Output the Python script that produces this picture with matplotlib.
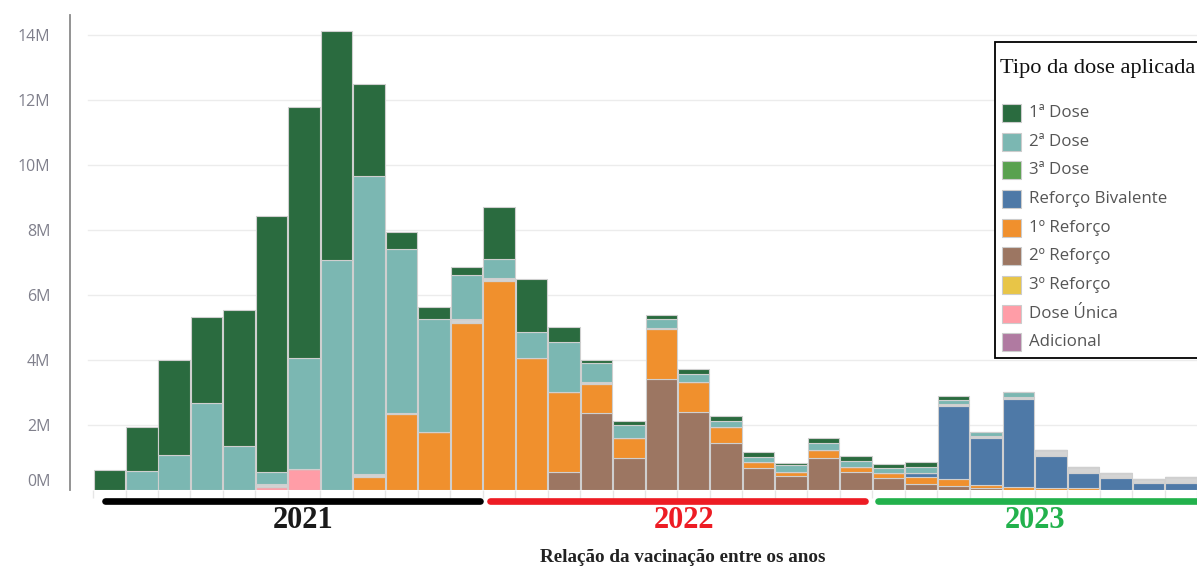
import numpy as np
import matplotlib.pyplot as plt
from matplotlib.patches import Rectangle
from matplotlib.transforms import blended_transform_factory

# Monthly doses applied (millions), Jan/2021 .. Oct/2023
meses = [f"{m:02d}/{a}" for a in (2021, 2022, 2023) for m in range(1, 13)][:34]

dose1 = [0.62, 1.35, 2.91, 2.64, 4.18, 7.87, 7.71, 7.04, 2.83, 0.51, 0.35, 0.25,
         1.58, 1.62, 0.48, 0.10, 0.13, 0.13, 0.15, 0.15, 0.14, 0.07, 0.15, 0.15,
         0.13, 0.17, 0.13, 0.00, 0.00, 0.00, 0.00, 0.00, 0.00, 0.00]
dose2 = [0.00, 0.58, 1.09, 2.67, 1.36, 0.37, 3.43, 7.06, 9.17, 5.04, 3.48, 1.35,
         0.58, 0.80, 1.54, 0.57, 0.39, 0.26, 0.25, 0.18, 0.15, 0.21, 0.21, 0.18,
         0.16, 0.19, 0.14, 0.12, 0.17, 0.00, 0.00, 0.00, 0.00, 0.00]
dose3 = [0.0] * 34
bivalente = [0.00] * 25 + [0.12, 2.25, 1.46, 2.70, 0.98, 0.48, 0.36, 0.21, 0.21]
reforco1 = [0.00, 0.00, 0.00, 0.00, 0.00, 0.00, 0.00, 0.00, 0.39, 2.33, 1.78, 5.12,
            6.43, 4.07, 2.46, 0.89, 0.62, 1.54, 0.90, 0.51, 0.20, 0.12, 0.24, 0.18,
            0.15, 0.21, 0.21, 0.10, 0.10, 0.05, 0.05, 0.00, 0.00, 0.00]
reforco2 = [0.00] * 14 + [0.54, 2.36, 0.99, 3.41, 2.41, 1.44, 0.67, 0.44, 0.99, 0.54,
                          0.36, 0.18, 0.12, 0.05, 0.00, 0.00, 0.00, 0.00, 0.00, 0.00]
reforco3 = [0.0] * 34
unica = [0.00, 0.00, 0.00, 0.00, 0.00, 0.08, 0.64] + [0.00] * 27
adicional = [0.0] * 34
outros = [0.00, 0.00, 0.00, 0.00, 0.00, 0.09, 0.00, 0.00, 0.10, 0.05, 0.00, 0.13,
          0.10, 0.00, 0.00, 0.08, 0.00, 0.04, 0.00, 0.00, 0.00, 0.00, 0.00, 0.00,
          0.00, 0.00, 0.05, 0.06, 0.05, 0.19, 0.17, 0.17, 0.14, 0.18]

legenda = ["1ª Dose", "2ª Dose", "3ª Dose", "Reforço Bivalente", "1º Reforço",
           "2º Reforço", "3º Reforço", "Dose Única", "Adicional"]
cores = ["#2a6b3f", "#7bb7b2", "#59a14f", "#4e79a7", "#f0902d",
         "#9c7662", "#e8c547", "#ff9da7", "#b07aa1"]
cor_outros = "#d4d4d4"

anos = ["2021", "2022", "2023"]
cores_anos = ["#000000", "#ed1c24", "#22b14c"]
faixas_anos = [(-0.13, 11.41), (11.74, 23.26), (23.68, 34.5)]
centro_anos = [5.96, 17.7, 28.5]

W, H = 1197, 567
fig = plt.figure(figsize=(W / 100, H / 100), dpi=100)
ax = fig.add_axes([70 / W, 77 / H, 1127 / W, 475 / H])

x = np.arange(len(meses))
series = {
    "Adicional": adicional, "Dose Única": unica, "3º Reforço": reforco3,
    "2º Reforço": reforco2, "1º Reforço": reforco1, "Reforço Bivalente": bivalente,
    "outros": outros, "3ª Dose": dose3, "2ª Dose": dose2, "1ª Dose": dose1,
}
cor_de = dict(zip(legenda, cores))
cor_de["outros"] = cor_outros

base = np.zeros(len(meses))
for nome, vals in series.items():
    vals = np.asarray(vals, dtype=float)
    ax.bar(x, vals, bottom=base, width=0.97, color=cor_de[nome],
           edgecolor="#cfcfcf", linewidth=0.8, zorder=3)
    base += vals

ax.set_xlim(-1.21, 33.47)
ax.set_ylim(0, 14.6)

# grid
for yv in range(2, 15, 2):
    ax.axhline(yv, xmin=0.016, xmax=1, color="#ececec", lw=1.0, zorder=1)

yt = list(range(0, 15, 2))
ax.set_yticks(yt)
ax.set_yticklabels([f"{v}M" for v in yt], fontfamily="Open Sans", fontsize=11.5,
                   color="#80808c")
ax.tick_params(axis="y", length=0, pad=14)
ax.get_yticklabels()[0].set_verticalalignment("bottom")

ax.set_xticks(np.arange(-0.5, 34, 1))
ax.set_xticklabels([])
ax.tick_params(axis="x", length=6, color="#e6e6e6", width=1)

for s in ("top", "right", "bottom"):
    ax.spines[s].set_visible(False)
ax.spines["left"].set_color("#8a8a8a")
ax.spines["left"].set_linewidth(1.3)

# year bands and labels
tr = blended_transform_factory(ax.transData, ax.transAxes)
for ano, cor, (a, b), cx in zip(anos, cores_anos, faixas_anos, centro_anos):
    ax.plot([a, b], [-0.0232, -0.0232], transform=tr, color=cor, lw=4.8,
            solid_capstyle="round", clip_on=False)
    ax.text(cx, -0.064, ano, transform=tr, ha="center", va="center",
            fontfamily="Liberation Serif", fontweight="bold", fontsize=22,
            color="#1a1a1a" if cor == "#000000" else cor)

fig.text(683 / W, 1 - 557 / H, "Relação da vacinação entre os anos",
         ha="center", va="center", fontfamily="Liberation Serif",
         fontweight="bold", fontsize=13.8, color="#222222")

# legend box
def fx(px):
    return px / W

def fy(py):
    return 1 - py / H

frame = Rectangle((fx(995), fy(358)), fx(1230) - fx(995), fy(41.7) - fy(358),
                  transform=fig.transFigure, facecolor="white", edgecolor="black",
                  linewidth=1.3, zorder=5)
fig.add_artist(frame)
fig.text(fx(1000), fy(69), "Tipo da dose aplicada", ha="left", va="center",
         fontfamily="Liberation Serif", fontsize=16.1, color="#111111", zorder=6)
for k, (nome, cor) in enumerate(zip(legenda, cores)):
    yc = 112.8 + 28.7 * k
    sq = Rectangle((fx(1001.7), fy(yc + 9)), fx(19), 18 / H,
                   transform=fig.transFigure, facecolor=cor, edgecolor="#cccccc",
                   linewidth=0.8, zorder=6)
    fig.add_artist(sq)
    fig.text(fx(1029), fy(yc), nome, ha="left", va="center",
             fontfamily="Open Sans", fontsize=12.2, color="#555555", zorder=6)

fig.savefig("out.png", dpi=100)
